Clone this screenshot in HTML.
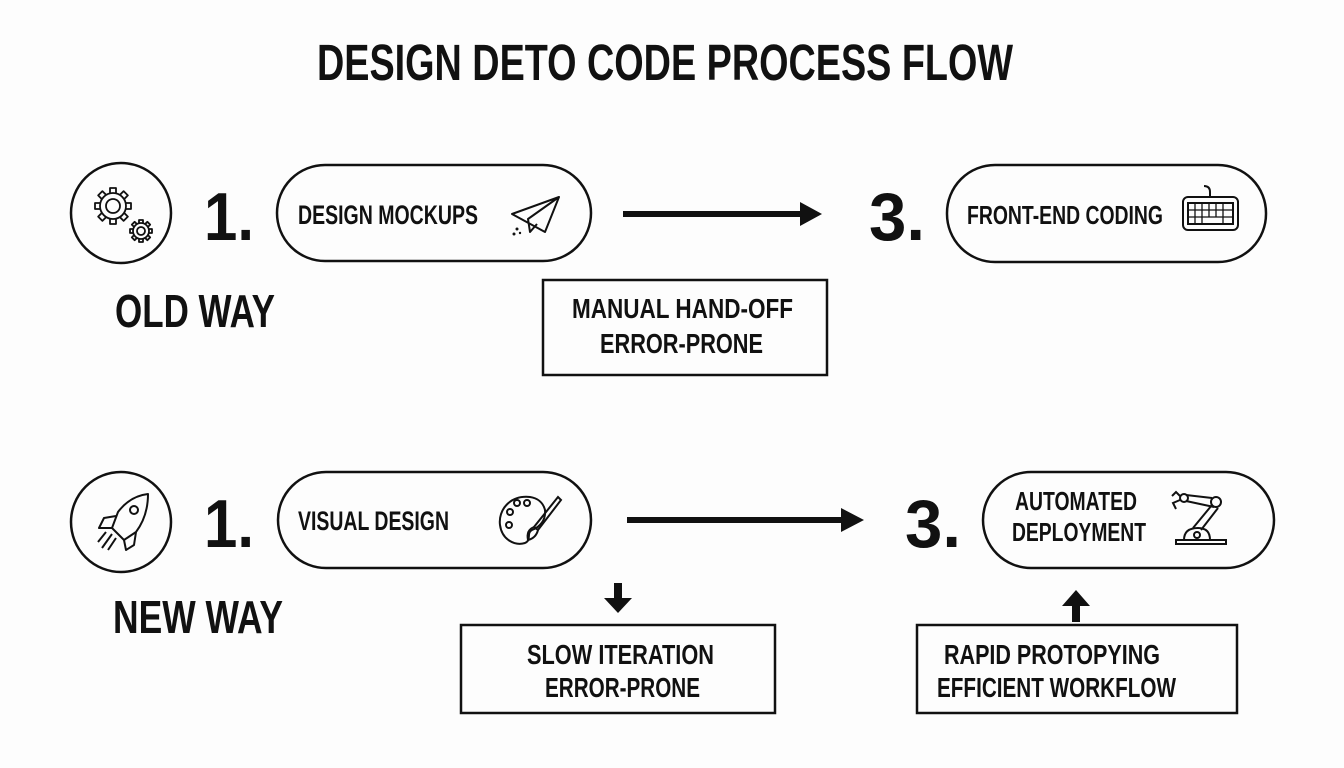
<!DOCTYPE html>
<html><head><meta charset="utf-8"><style>
html,body{margin:0;padding:0;background:#fdfdfd;}
svg{display:block}
text{font-family:"Liberation Sans",sans-serif;font-weight:bold;fill:#111;}
</style></head><body>
<svg width="1344" height="768" viewBox="0 0 1344 768" xmlns="http://www.w3.org/2000/svg">
<rect width="1344" height="768" fill="#fdfdfd"/>
<text x="317" y="80" font-size="51" textLength="696" lengthAdjust="spacingAndGlyphs">DESIGN DETO CODE PROCESS FLOW</text>

<!-- Row 1 -->
<circle cx="121" cy="213" r="50" fill="none" stroke="#111" stroke-width="2.5"/>
<g fill="none" stroke="#111" stroke-width="1.8" stroke-linejoin="round">
<circle cx="113" cy="206" r="13"/>
<circle cx="113" cy="206" r="7"/>
<g transform="translate(113 206)">
<path d="M-3 -13 V-18 H3 V-13 M-3 13 V18 H3 V13 M-13 -3 H-18 V3 H-13 M13 -3 H18 V3 H13"/>
<path d="M-3 -13 V-18 H3 V-13" transform="rotate(45)"/><path d="M-3 -13 V-18 H3 V-13" transform="rotate(135)"/>
<path d="M-3 -13 V-18 H3 V-13" transform="rotate(225)"/><path d="M-3 -13 V-18 H3 V-13" transform="rotate(315)"/>
</g>
<circle cx="141" cy="231" r="8"/>
<circle cx="141" cy="231" r="4"/>
<g transform="translate(141 231)">
<path d="M-2 -8 V-11 H2 V-8 M-2 8 V11 H2 V8 M-8 -2 H-11 V2 H-8 M8 -2 H11 V2 H8"/>
<path d="M-2 -8 V-11 H2 V-8" transform="rotate(45)"/><path d="M-2 -8 V-11 H2 V-8" transform="rotate(135)"/>
<path d="M-2 -8 V-11 H2 V-8" transform="rotate(225)"/><path d="M-2 -8 V-11 H2 V-8" transform="rotate(315)"/>
</g>
</g>
<text x="204" y="240" font-size="68" textLength="50" lengthAdjust="spacingAndGlyphs">1.</text>
<rect x="277" y="165" width="314" height="96" rx="48" fill="none" stroke="#111" stroke-width="2.5"/>
<text x="298" y="224" font-size="27" textLength="180" lengthAdjust="spacingAndGlyphs">DESIGN MOCKUPS</text>
<g fill="none" stroke="#111" stroke-width="2" stroke-linejoin="round">
<path d="M512 214 L559 197 L545 232 Z M559 197 L528 219 L530 232 L537 224"/>
</g>
<circle cx="517" cy="229" r="1.5" fill="#111"/><circle cx="514" cy="234" r="1.5" fill="#111"/><circle cx="520" cy="233" r="1.2" fill="#111"/>
<line x1="623" y1="214" x2="802" y2="214" stroke="#111" stroke-width="6"/>
<polygon points="800,202 822,214 800,226" fill="#111"/>
<text x="869" y="240" font-size="68" textLength="56" lengthAdjust="spacingAndGlyphs">3.</text>
<rect x="947" y="165" width="319" height="97" rx="48" fill="none" stroke="#111" stroke-width="2.5"/>
<text x="967" y="224" font-size="26" textLength="196" lengthAdjust="spacingAndGlyphs">FRONT-END CODING</text>
<g fill="none" stroke="#111" stroke-width="2">
<rect x="1183" y="197" width="55" height="33" rx="5"/>
<rect x="1188" y="203" width="45" height="21"/>
<path d="M1210 197 V192 Q1210 186 1204 186"/>
<path d="M1188 210 H1233 M1188 217 H1233 M1195 203 V224 M1202 203 V224 M1209 203 V217 M1216 203 V217 M1223 203 V224" stroke-width="1.3"/>
</g>
<text x="115" y="327" font-size="46" textLength="160" lengthAdjust="spacingAndGlyphs">OLD WAY</text>
<rect x="543" y="280" width="284" height="95" fill="none" stroke="#111" stroke-width="2.5"/>
<text x="572" y="318" font-size="28" textLength="221" lengthAdjust="spacingAndGlyphs">MANUAL HAND-OFF</text>
<text x="600" y="353" font-size="28" textLength="163" lengthAdjust="spacingAndGlyphs">ERROR-PRONE</text>

<!-- Row 2 -->
<circle cx="121" cy="522" r="50" fill="none" stroke="#111" stroke-width="2.5"/>
<g fill="none" stroke="#111" stroke-width="2" stroke-linejoin="round">
<path d="M148 494 Q130 496 118 512 L112 528 L124 540 L136 532 Q148 516 148 494 Z"/>
<circle cx="134" cy="510" r="4"/>
<path d="M116 516 L104 518 L99 528 L112 528 M136 532 L134 545 L126 550 L124 540"/>
<path d="M112 534 L102 548 M116 538 L108 550 M106 532 L98 542"/>
</g>
<text x="204" y="547" font-size="68" textLength="50" lengthAdjust="spacingAndGlyphs">1.</text>
<rect x="278" y="472" width="313" height="96" rx="48" fill="none" stroke="#111" stroke-width="2.5"/>
<text x="298" y="530" font-size="27" textLength="151" lengthAdjust="spacingAndGlyphs">VISUAL DESIGN</text>
<g fill="none" stroke="#111" stroke-width="2">
<path d="M530 497 C510 495 498 510 500 525 C502 540 515 546 525 543 C532 540 526 533 532 530 C540 527 546 520 545 510 C543 502 537 498 530 497 Z"/>
<circle cx="510" cy="512" r="3"/><circle cx="517" cy="503" r="3"/><circle cx="527" cy="503" r="3"/><circle cx="509" cy="525" r="3"/>
<path d="M558 497 L534 527 L538 530 L561 500 Z"/>
<path d="M534 527 Q526 530 528 540 Q536 538 538 530"/>
</g>
<line x1="627" y1="520" x2="843" y2="520" stroke="#111" stroke-width="6"/>
<polygon points="841,508 864,520 841,532" fill="#111"/>
<text x="905" y="547" font-size="68" textLength="56" lengthAdjust="spacingAndGlyphs">3.</text>
<rect x="983" y="472" width="291" height="96" rx="48" fill="none" stroke="#111" stroke-width="2.5"/>
<text x="1015" y="510" font-size="26" textLength="122" lengthAdjust="spacingAndGlyphs">AUTOMATED</text>
<text x="1012" y="541" font-size="26" textLength="134" lengthAdjust="spacingAndGlyphs">DEPLOYMENT</text>
<g fill="none" stroke="#111" stroke-width="2">
<rect x="1176" y="540" width="50" height="4"/>
<path d="M1184 540 Q1184 528 1198 528 Q1210 528 1210 540"/>
<circle cx="1197" cy="535" r="3"/>
<path d="M1193 528 L1212 505 M1201 530 L1218 508"/>
<circle cx="1216" cy="502" r="5"/>
<path d="M1212 498 L1186 495 M1214 507 L1186 501"/>
<circle cx="1184" cy="498" r="4"/>
<path d="M1180 500 L1173 503 L1176 509 M1180 496 L1176 492 L1172 496"/>
</g>
<text x="113" y="633" font-size="46" textLength="170" lengthAdjust="spacingAndGlyphs">NEW WAY</text>
<rect x="614" y="583" width="8" height="16" fill="#111"/>
<polygon points="604,598 632,598 618,613" fill="#111"/>
<rect x="461" y="625" width="314" height="88" fill="none" stroke="#111" stroke-width="2.5"/>
<text x="527" y="664" font-size="28" textLength="187" lengthAdjust="spacingAndGlyphs">SLOW ITERATION</text>
<text x="545" y="697" font-size="28" textLength="155" lengthAdjust="spacingAndGlyphs">ERROR-PRONE</text>
<rect x="1072" y="605" width="8" height="17" fill="#111"/>
<polygon points="1062,606 1090,606 1076,590" fill="#111"/>
<rect x="917" y="625" width="320" height="88" fill="none" stroke="#111" stroke-width="2.5"/>
<text x="944" y="664" font-size="28" textLength="216" lengthAdjust="spacingAndGlyphs">RAPID PROTOPYING</text>
<text x="937" y="697" font-size="28" textLength="239" lengthAdjust="spacingAndGlyphs">EFFICIENT WORKFLOW</text>
</svg>
</body></html>
